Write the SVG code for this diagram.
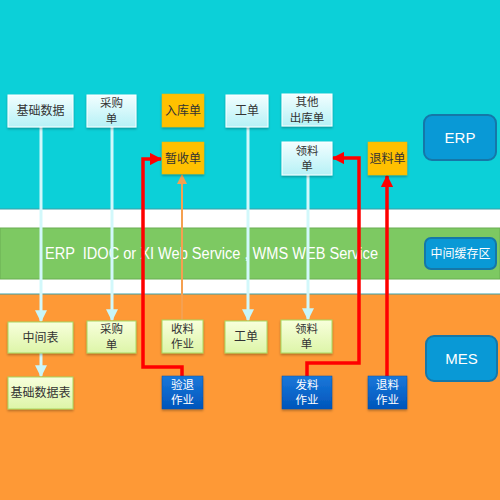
<svg xmlns="http://www.w3.org/2000/svg" width="500" height="500" viewBox="0 0 500 500">
<defs>
<linearGradient id="gc" x1="0" y1="0" x2="0" y2="1"><stop offset="0" stop-color="#F2FEFF"/><stop offset="1" stop-color="#B6F1F6"/></linearGradient>
<linearGradient id="gg" x1="0" y1="0" x2="0" y2="1"><stop offset="0" stop-color="#F8FFDC"/><stop offset="1" stop-color="#DDF5A8"/></linearGradient>
<linearGradient id="gb" x1="0" y1="0" x2="0" y2="1"><stop offset="0" stop-color="#1A78DA"/><stop offset="1" stop-color="#0055BB"/></linearGradient>
<filter id="sh" x="-20%" y="-20%" width="140%" height="150%"><feDropShadow dx="0" dy="1.5" stdDeviation="1" flood-color="#000" flood-opacity="0.3"/></filter>
<marker id="ac" viewBox="0 0 10 10" refX="9" refY="5" markerWidth="4" markerHeight="4" orient="auto" markerUnits="strokeWidth"><path d="M0,0 L10,5 L0,10 z" fill="#C8F6FA"/></marker>
<marker id="ar" viewBox="0 0 10 10" refX="9" refY="5" markerWidth="3.5" markerHeight="3.5" orient="auto" markerUnits="strokeWidth"><path d="M0,0 L10,5 L0,10 z" fill="#FF0000"/></marker>
<marker id="ao" viewBox="0 0 10 10" refX="9" refY="5" markerWidth="5" markerHeight="5" orient="auto" markerUnits="strokeWidth"><path d="M0,0 L10,5 L0,10 z" fill="#F5A050"/></marker>
</defs>
<style>
.t{font-family:"Noto Sans CJK SC","Liberation Sans",sans-serif;font-size:12px;fill:#333;text-anchor:middle}
.tw{font-family:"Noto Sans CJK SC","Liberation Sans",sans-serif;font-size:12px;fill:#fff;text-anchor:middle}
.t2{font-family:"Noto Sans CJK SC","Liberation Sans",sans-serif;font-size:11.5px;fill:#333;text-anchor:middle}
.tw2{font-family:"Noto Sans CJK SC","Liberation Sans",sans-serif;font-size:11.5px;fill:#fff;text-anchor:middle}
.c{fill:url(#gc);stroke:#fff;stroke-width:1;filter:url(#sh)}
.y{fill:#FFC000;stroke:#F0B800;stroke-width:0.5;filter:url(#sh)}
.g{fill:url(#gg);stroke:#A8D860;stroke-width:1;filter:url(#sh)}
.b{fill:url(#gb);stroke:#0050A8;stroke-width:0.5;filter:url(#sh)}
.sys{fill:#0999D6;stroke:#1577A8;stroke-width:2}
.lc{stroke:#D2F8FB;stroke-width:3;fill:none}
.lr{stroke:#FF0000;stroke-width:3.5;fill:none}
.lo{stroke:#F5A050;stroke-width:2;fill:none}
</style>
<rect x="0" y="0" width="500" height="209" fill="#0CD0D8"/>
<rect x="0" y="209" width="500" height="85" fill="#fff"/>
<line x1="0" y1="209" x2="500" y2="209" stroke="#3AA0A8" stroke-width="1"/>
<rect x="0" y="228" width="500" height="51" fill="#7DC962" stroke="#6AAE52" stroke-width="1"/>
<rect x="0" y="294" width="500" height="206" fill="#FE9936"/>
<line x1="0" y1="294" x2="500" y2="294" stroke="#3AA0A8" stroke-width="1"/>
<text x="45" y="259" font-family="Liberation Sans, sans-serif" font-size="16" fill="#fff" textLength="333" lengthAdjust="spacingAndGlyphs" xml:space="preserve">ERP  IDOC or XI Web Service , WMS WEB Service</text>
<g id="connectors">
<line class="lc" x1="41" y1="127" x2="41" y2="321" marker-end="url(#ac)"/>
<line class="lc" x1="112" y1="127" x2="112" y2="320" marker-end="url(#ac)"/>
<line class="lc" x1="248" y1="127" x2="248" y2="320" marker-end="url(#ac)"/>
<line class="lc" x1="308" y1="175" x2="308" y2="319" marker-end="url(#ac)"/>
<line class="lc" x1="41" y1="353" x2="41" y2="376" marker-end="url(#ac)"/>
<line class="lo" x1="182" y1="320" x2="182" y2="175" marker-end="url(#ao)"/>
<polyline class="lr" points="182,376 182,367 143,367 143,159 161,159" marker-end="url(#ar)"/>
<polyline class="lr" points="307,376 307,363 359,363 359,158 333,158" marker-end="url(#ar)"/>
<line class="lr" x1="387" y1="376" x2="387" y2="176" marker-end="url(#ar)"/>
</g>
<g id="n-jichushuju"><rect class="c" x="8" y="95" width="65" height="32"/><text class="t" x="40.5" y="115">基础数据</text></g>
<g id="n-caigou"><rect class="c" x="87" y="95" width="49" height="32"/><text class="t2" x="111.5" y="107">采购</text><text class="t2" x="111.5" y="122.5">单</text></g>
<g id="n-ruku"><rect class="y" x="162" y="94" width="42" height="33"/><text class="t" x="183" y="115">入库单</text></g>
<g id="n-zanshou"><rect class="y" x="162" y="142" width="42" height="32"/><text class="t" x="183" y="163">暂收单</text></g>
<g id="n-gongdan"><rect class="c" x="226" y="95" width="42" height="32"/><text class="t" x="247" y="115">工单</text></g>
<g id="n-qita"><rect class="c" x="282" y="94" width="50" height="32"/><text class="t2" x="307" y="106">其他</text><text class="t2" x="307" y="121.5">出库单</text></g>
<g id="n-lingliao"><rect class="c" x="282" y="142" width="50" height="33"/><text class="t2" x="307" y="154.5">领料</text><text class="t2" x="307" y="170">单</text></g>
<g id="n-tuiliaodan"><rect class="y" x="368" y="142" width="39" height="33"/><text class="t" x="387.5" y="163">退料单</text></g>
<g id="n-erp"><rect class="sys" x="424" y="115" width="72" height="45" rx="8"/><text x="460" y="143" font-family="Liberation Sans, sans-serif" font-size="15" fill="#fff" text-anchor="middle">ERP</text></g>
<g id="n-cache"><rect class="sys" x="425" y="238" width="71" height="31" rx="6"/><text class="tw" x="460.5" y="258">中间缓存区</text></g>
<g id="n-zhongjianbiao"><rect class="g" x="8" y="322" width="65" height="31"/><text class="t" x="40.5" y="342">中间表</text></g>
<g id="n-jichubiao"><rect class="g" x="8" y="377" width="65" height="32"/><text class="t" x="40.5" y="397">基础数据表</text></g>
<g id="n-caigou2"><rect class="g" x="87" y="321" width="49" height="32"/><text class="t2" x="111.5" y="333">采购</text><text class="t2" x="111.5" y="348.5">单</text></g>
<g id="n-shouliao"><rect class="g" x="162" y="320" width="41" height="33"/><text class="t2" x="182.5" y="332.5">收料</text><text class="t2" x="182.5" y="348">作业</text></g>
<g id="n-gongdan2"><rect class="g" x="225" y="321" width="42" height="32"/><text class="t" x="246" y="341">工单</text></g>
<g id="n-lingliao2"><rect class="g" x="281" y="320" width="51" height="33"/><text class="t2" x="306.5" y="332.5">领料</text><text class="t2" x="306.5" y="348">单</text></g>
<g id="n-yantui"><rect class="b" x="162" y="376" width="41" height="33"/><text class="tw2" x="182.5" y="388.5">验退</text><text class="tw2" x="182.5" y="404">作业</text></g>
<g id="n-faliao"><rect class="b" x="282" y="376" width="50" height="33"/><text class="tw2" x="307" y="388.5">发料</text><text class="tw2" x="307" y="404">作业</text></g>
<g id="n-tuiliao"><rect class="b" x="368" y="376" width="39" height="33"/><text class="tw2" x="387.5" y="388.5">退料</text><text class="tw2" x="387.5" y="404">作业</text></g>
<g id="n-mes"><rect class="sys" x="426" y="336" width="71" height="45" rx="8"/><text x="461.5" y="364" font-family="Liberation Sans, sans-serif" font-size="15" fill="#fff" text-anchor="middle">MES</text></g>
</svg>
